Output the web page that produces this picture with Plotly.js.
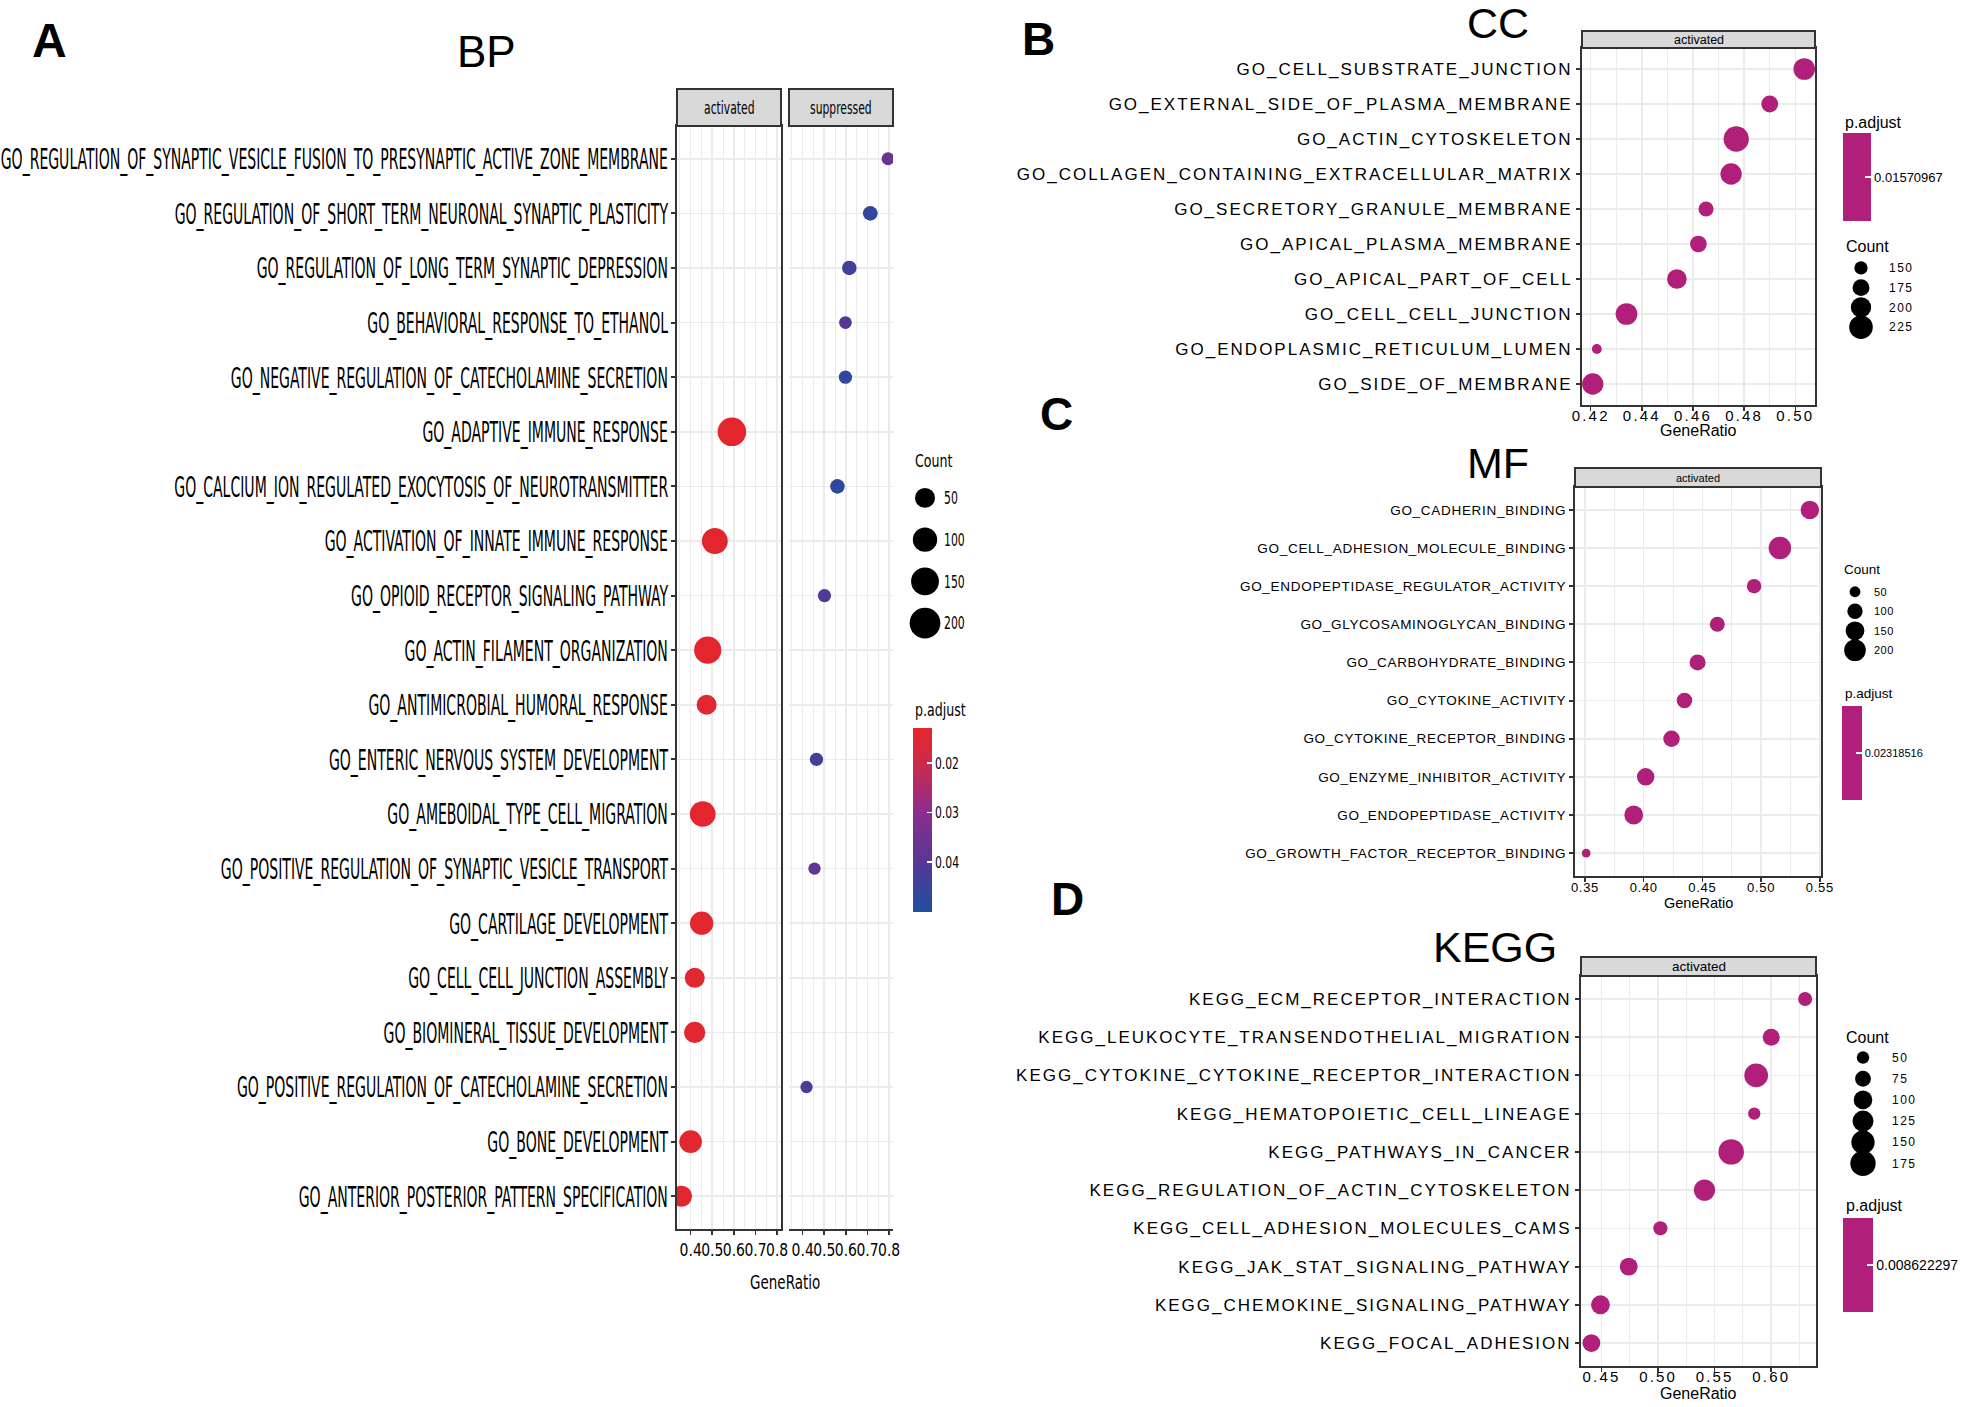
<!DOCTYPE html>
<html>
<head>
<meta charset="utf-8">
<script src="https://cdn.plot.ly/plotly-3.0.1.min.js"></script>
<style>
html,body{margin:0;padding:0;background:#fff;}
#chart{width:1980px;height:1407px;}
.y3tick text, .y5tick text{letter-spacing:2px;}
.y4tick text{letter-spacing:0.7px;}
.x3tick text, .x5tick text{letter-spacing:2.2px;}
.x4tick text{letter-spacing:0.7px;}
.y7tick text, .y9tick text{letter-spacing:1.5px;}
.y8tick text{letter-spacing:0.5px;}
</style>
</head>
<body>
<div id="chart"></div>
<script>
// ---------------- DATA ----------------
const bpTerms = [
  'GO_REGULATION_OF_SYNAPTIC_VESICLE_FUSION_TO_PRESYNAPTIC_ACTIVE_ZONE_MEMBRANE',
  'GO_REGULATION_OF_SHORT_TERM_NEURONAL_SYNAPTIC_PLASTICITY',
  'GO_REGULATION_OF_LONG_TERM_SYNAPTIC_DEPRESSION',
  'GO_BEHAVIORAL_RESPONSE_TO_ETHANOL',
  'GO_NEGATIVE_REGULATION_OF_CATECHOLAMINE_SECRETION',
  'GO_ADAPTIVE_IMMUNE_RESPONSE',
  'GO_CALCIUM_ION_REGULATED_EXOCYTOSIS_OF_NEUROTRANSMITTER',
  'GO_ACTIVATION_OF_INNATE_IMMUNE_RESPONSE',
  'GO_OPIOID_RECEPTOR_SIGNALING_PATHWAY',
  'GO_ACTIN_FILAMENT_ORGANIZATION',
  'GO_ANTIMICROBIAL_HUMORAL_RESPONSE',
  'GO_ENTERIC_NERVOUS_SYSTEM_DEVELOPMENT',
  'GO_AMEBOIDAL_TYPE_CELL_MIGRATION',
  'GO_POSITIVE_REGULATION_OF_SYNAPTIC_VESICLE_TRANSPORT',
  'GO_CARTILAGE_DEVELOPMENT',
  'GO_CELL_CELL_JUNCTION_ASSEMBLY',
  'GO_BIOMINERAL_TISSUE_DEVELOPMENT',
  'GO_POSITIVE_REGULATION_OF_CATECHOLAMINE_SECRETION',
  'GO_BONE_DEVELOPMENT',
  'GO_ANTERIOR_POSTERIOR_PATTERN_SPECIFICATION'
];
const bpGroup = ['suppressed','suppressed','suppressed','suppressed','suppressed','activated','suppressed','activated','suppressed','activated',
                 'activated','suppressed','activated','suppressed','activated','activated','activated','suppressed','activated','activated'];
const bpGeneRatio = [0.795,0.713,0.616,0.598,0.598,0.591,0.561,0.512,0.501,0.479,0.474,0.464,0.456,0.455,0.451,0.419,0.419,0.418,0.400,0.358];
const bpCount = [6,13,12,5,7,163,12,120,7,140,50,7,118,4,86,50,62,4,78,60];
const bpPadjust = [0.036,0.046,0.044,0.040,0.047,0.0135,0.047,0.0135,0.041,0.0135,0.0140,0.043,0.0135,0.038,0.0138,0.0140,0.0140,0.042,0.0140,0.0142];
const bpFacets = ['activated','suppressed'];
const bpTicks = [0.4,0.5,0.6,0.7,0.8];
const bpTickText = ['0.4','0.5','0.6','0.7','0.8'];
const bpSizeBreaks = ['50','100','150','200'];
const bpPadjTicks = [0.02,0.03,0.04];
const bpPadjTickText = ['0.02','0.03','0.04'];

const ccTerms = [
  'GO_CELL_SUBSTRATE_JUNCTION','GO_EXTERNAL_SIDE_OF_PLASMA_MEMBRANE','GO_ACTIN_CYTOSKELETON',
  'GO_COLLAGEN_CONTAINING_EXTRACELLULAR_MATRIX','GO_SECRETORY_GRANULE_MEMBRANE','GO_APICAL_PLASMA_MEMBRANE',
  'GO_APICAL_PART_OF_CELL','GO_CELL_CELL_JUNCTION','GO_ENDOPLASMIC_RETICULUM_LUMEN','GO_SIDE_OF_MEMBRANE'
];
const ccGeneRatio = [0.5035,0.490,0.4769,0.4749,0.4651,0.4621,0.4537,0.434,0.4224,0.4208];
const ccCount = [210,174,240,208,162,173,195,211,128,208];
const ccPadjust = [0.01570967,0.01570967,0.01570967,0.01570967,0.01570967,0.01570967,0.01570967,0.01570967,0.01570967,0.01570967];
const ccTicks = [0.42,0.44,0.46,0.48,0.50];
const ccTickText = ['0.42','0.44','0.46','0.48','0.50'];
const ccSizeBreaks = ['150','175','200','225'];
const ccPadjLabel = ['0.01570967'];

const mfTerms = [
  'GO_CADHERIN_BINDING','GO_CELL_ADHESION_MOLECULE_BINDING','GO_ENDOPEPTIDASE_REGULATOR_ACTIVITY',
  'GO_GLYCOSAMINOGLYCAN_BINDING','GO_CARBOHYDRATE_BINDING','GO_CYTOKINE_ACTIVITY','GO_CYTOKINE_RECEPTOR_BINDING',
  'GO_ENZYME_INHIBITOR_ACTIVITY','GO_ENDOPEPTIDASE_ACTIVITY','GO_GROWTH_FACTOR_RECEPTOR_BINDING'
];
const mfGeneRatio = [0.5415,0.516,0.494,0.4627,0.4459,0.4347,0.4237,0.4017,0.3915,0.351];
const mfCount = [146,216,90,96,110,103,116,131,151,33];
const mfPadjust = [0.02318516,0.02318516,0.02318516,0.02318516,0.02318516,0.02318516,0.02318516,0.02318516,0.02318516,0.02318516];
const mfTicks = [0.35,0.40,0.45,0.50,0.55];
const mfTickText = ['0.35','0.40','0.45','0.50','0.55'];
const mfSizeBreaks = ['50','100','150','200'];
const mfPadjLabel = ['0.02318516'];

const keggTerms = [
  'KEGG_ECM_RECEPTOR_INTERACTION','KEGG_LEUKOCYTE_TRANSENDOTHELIAL_MIGRATION','KEGG_CYTOKINE_CYTOKINE_RECEPTOR_INTERACTION',
  'KEGG_HEMATOPOIETIC_CELL_LINEAGE','KEGG_PATHWAYS_IN_CANCER','KEGG_REGULATION_OF_ACTIN_CYTOSKELETON',
  'KEGG_CELL_ADHESION_MOLECULES_CAMS','KEGG_JAK_STAT_SIGNALING_PATHWAY','KEGG_CHEMOKINE_SIGNALING_PATHWAY','KEGG_FOCAL_ADHESION'
];
const keggGeneRatio = [0.630,0.600,0.5867,0.585,0.5646,0.541,0.502,0.474,0.449,0.441];
const keggCount = [61,85,155,49,177,127,62,93,103,93];
const keggPadjust = [0.008622297,0.008622297,0.008622297,0.008622297,0.008622297,0.008622297,0.008622297,0.008622297,0.008622297,0.008622297];
const keggTicks = [0.45,0.50,0.55,0.60];
const keggTickText = ['0.45','0.50','0.55','0.60'];
const keggSizeBreaks = ['50','75','100','125','150','175'];
const keggPadjLabel = ['0.008622297'];

// ---------------- LAYOUT HELPERS ----------------
const W = 1980, H = 1407;
const fx = p => p / W;
const fy = p => 1 - p / H;
const NARROW = '"Liberation Sans Narrow", "Arial Narrow", "DejaVu Sans Condensed", sans-serif';
const ARIAL = '"Liberation Sans", Arial, Helvetica, sans-serif';
const MAG = '#B0207A';
const GRID = '#EBEBEB';
const BORDER = '#333333';

// size scales (diameter in px from count, area-like as ggplot)
const sizeBP = c => 9.3 + 1.51 * Math.sqrt(c);
const sizeCC = c => -32 + 3.7 * Math.sqrt(c);
const sizeMF = c => 1.53 * Math.sqrt(c);
const sizeKEGG = c => -2.2 + 2.08 * Math.sqrt(c);

function xAxis(d0, d1, anchor, range, tv, tt, minor0, minorD, tickSize, fam, standoff) {
  return {
    domain: [fx(d0), fx(d1)], anchor: anchor, range: range,
    tickmode: 'array', tickvals: tv, ticktext: tt, tickangle: 0,
    ticks: 'outside', ticklen: 4, tickwidth: 1.5, tickcolor: BORDER,
    ticklabelstandoff: standoff,
    tickfont: {family: fam, size: tickSize, color: '#000'},
    showgrid: true, gridcolor: GRID, gridwidth: 1.6,
    minor: {tickmode: 'linear', tick0: minor0, dtick: minorD, showgrid: true, gridcolor: GRID, gridwidth: 1, ticks: ''},
    zeroline: false, showline: true, mirror: true, linecolor: BORDER, linewidth: 2,
    fixedrange: true
  };
}
function yAxis(top, bottom, anchor, cats, tickSize, fam, showLabels) {
  return {
    domain: [fy(bottom), fy(top)], anchor: anchor, type: 'category',
    categoryorder: 'array', categoryarray: cats,
    range: [cats.length - 0.4, -0.6],
    ticks: 'outside', ticklen: 4, tickwidth: 2, tickcolor: BORDER,
    showticklabels: showLabels,
    tickfont: {family: fam, size: tickSize, color: '#000'},
    showgrid: true, gridcolor: GRID, gridwidth: 1.6,
    zeroline: false, showline: true, mirror: true, linecolor: BORDER, linewidth: 2,
    fixedrange: true
  };
}
function legX(center) {
  return {domain: [fx(center - 10), fx(center + 10)], range: [-1, 1], visible: false, fixedrange: true};
}
function legY(top, bottom, anchor, cats, tickSize, fam, standoff) {
  return {
    domain: [fy(bottom), fy(top)], anchor: anchor, side: 'right', type: 'category',
    categoryorder: 'array', categoryarray: cats, range: [cats.length - 0.5, -0.5],
    showgrid: false, zeroline: false, showline: false, ticks: '',
    ticklabelstandoff: standoff,
    tickfont: {family: fam, size: tickSize, color: '#000'}, fixedrange: true
  };
}
function ann(text, xpx, ypx, size, fam, opts) {
  return Object.assign({
    text: text, xref: 'paper', yref: 'paper', x: fx(xpx), y: fy(ypx),
    xanchor: 'center', yanchor: 'middle', showarrow: false,
    font: {family: fam, size: size, color: '#000'}
  }, opts || {});
}
function strip(x0, x1, y0, y1) {
  return {type: 'rect', xref: 'paper', yref: 'paper', x0: fx(x0), x1: fx(x1), y0: fy(y1), y1: fy(y0),
          fillcolor: '#D9D9D9', line: {color: BORDER, width: 2}, layer: 'above'};
}
function singleColorAxis(v, label, xpx, ypx, lenpx, thick, fsize) {
  return {
    cmin: v * 0.9, cmax: v * 1.1, colorscale: [[0, MAG], [1, MAG]], showscale: true,
    colorbar: {
      x: fx(xpx), xanchor: 'left', xpad: 0, xref: 'paper',
      y: fy(ypx), yanchor: 'top', ypad: 0, yref: 'paper',
      len: lenpx, lenmode: 'pixels', thickness: thick, thicknessmode: 'pixels',
      outlinewidth: 0, tickmode: 'array', tickvals: [v], ticktext: label,
      ticks: 'inside', ticklen: 6, tickwidth: 1.5, tickcolor: '#ffffff',
      tickfont: {family: ARIAL, size: fsize, color: '#000'}
    }
  };
}

// ---------------- TRACES ----------------
const traces = [];
bpFacets.forEach((facet, k) => {
  const idx = bpGroup.map((g, i) => g === facet ? i : -1).filter(i => i >= 0);
  traces.push({
    type: 'scatter', mode: 'markers', name: facet,
    x: idx.map(i => bpGeneRatio[i]), y: idx.map(i => bpTerms[i]),
    xaxis: k === 0 ? 'x' : 'x2', yaxis: 'y',
    marker: {size: idx.map(i => sizeBP(bpCount[i])), color: idx.map(i => -bpPadjust[i]),
             coloraxis: 'coloraxis', line: {width: 0}, opacity: 1},
    hoverinfo: 'skip'
  });
});
traces.push({type: 'scatter', mode: 'markers', x: ccGeneRatio, y: ccTerms, xaxis: 'x3', yaxis: 'y3',
  marker: {size: ccCount.map(sizeCC), color: ccPadjust, coloraxis: 'coloraxis2', line: {width: 0}, opacity: 1}, hoverinfo: 'skip'});
traces.push({type: 'scatter', mode: 'markers', x: mfGeneRatio, y: mfTerms, xaxis: 'x4', yaxis: 'y4',
  marker: {size: mfCount.map(sizeMF), color: mfPadjust, coloraxis: 'coloraxis3', line: {width: 0}, opacity: 1}, hoverinfo: 'skip'});
traces.push({type: 'scatter', mode: 'markers', x: keggGeneRatio, y: keggTerms, xaxis: 'x5', yaxis: 'y5',
  marker: {size: keggCount.map(sizeKEGG), color: keggPadjust, coloraxis: 'coloraxis4', line: {width: 0}, opacity: 1}, hoverinfo: 'skip'});

// size legends (Count keys), drawn through their own small axes
[[bpSizeBreaks, sizeBP, 'x6', 'y6'], [ccSizeBreaks, sizeCC, 'x7', 'y7'],
 [mfSizeBreaks, sizeMF, 'x8', 'y8'], [keggSizeBreaks, sizeKEGG, 'x9', 'y9']].forEach(([br, fn, xa, ya]) => {
  traces.push({type: 'scatter', mode: 'markers', x: br.map(() => 0), y: br, xaxis: xa, yaxis: ya,
    cliponaxis: false, marker: {size: br.map(b => fn(Number(b))), color: '#000000', line: {width: 0}, opacity: 1}, hoverinfo: 'skip'});
});

// ---------------- LAYOUT ----------------
const layout = {
  width: W, height: H, margin: {l: 0, r: 0, t: 0, b: 0, pad: 0},
  paper_bgcolor: '#ffffff', plot_bgcolor: '#ffffff', showlegend: false, hovermode: false,
  font: {family: ARIAL, color: '#000'},

  xaxis:  xAxis(677, 781, 'y', [0.337, 0.818], bpTicks, bpTickText, 0.35, 0.1, 15.5, NARROW, 1),
  xaxis2: xAxis(789, 893, 'y', [0.337, 0.818], bpTicks, bpTickText, 0.35, 0.1, 15.5, NARROW, 1),
  yaxis:  yAxis(126, 1229, 'x', bpTerms, 15.6, NARROW, true),
  xaxis3: xAxis(1582, 1815, 'y3', [0.4166, 0.5077], ccTicks, ccTickText, 0.41, 0.02, 15, ARIAL, -8),
  yaxis3: yAxis(48, 405, 'x3', ccTerms, 17, ARIAL, true),
  xaxis4: xAxis(1575, 1821, 'y4', [0.3415, 0.551], mfTicks, mfTickText, 0.325, 0.05, 13, ARIAL, -6),
  yaxis4: yAxis(487, 876, 'x4', mfTerms, 13.5, ARIAL, true),
  xaxis5: xAxis(1581, 1816, 'y5', [0.4318, 0.6396], keggTicks, keggTickText, 0.425, 0.05, 15, ARIAL, -8),
  yaxis5: yAxis(976, 1366, 'x5', keggTerms, 17, ARIAL, true),

  xaxis6: legX(925),  yaxis6: legY(477, 644, 'x6', bpSizeBreaks, 12, NARROW, 8),
  xaxis7: legX(1861), yaxis7: legY(258, 337, 'x7', ccSizeBreaks, 12, ARIAL, 17),
  xaxis8: legX(1855), yaxis8: legY(582, 660, 'x8', mfSizeBreaks, 11, ARIAL, 8),
  xaxis9: legX(1863), yaxis9: legY(1047, 1174, 'x9', keggSizeBreaks, 12, ARIAL, 18),

  coloraxis: {
    cmin: -0.0501, cmax: -0.0129,
    colorscale: [[0, '#1E4FA0'], [0.27, '#553896'], [0.54, '#8B2D8E'], [0.81, '#CC2A4A'], [1, '#E5262A']],
    colorbar: {
      x: fx(913), xanchor: 'left', xpad: 0, xref: 'paper',
      y: fy(728), yanchor: 'top', ypad: 0, yref: 'paper',
      len: 184, lenmode: 'pixels', thickness: 19, thicknessmode: 'pixels', outlinewidth: 0,
      tickmode: 'array', tickvals: bpPadjTicks.map(v => -v), ticktext: bpPadjTickText,
      ticks: 'inside', ticklen: 5, tickwidth: 1.5, tickcolor: '#ffffff',
      tickfont: {family: NARROW, size: 12, color: '#000'}
    }
  },
  coloraxis2: singleColorAxis(ccPadjust[0], ccPadjLabel, 1843, 133, 88, 28, 13),
  coloraxis3: singleColorAxis(mfPadjust[0], mfPadjLabel, 1842, 706, 94, 20, 11),
  coloraxis4: singleColorAxis(keggPadjust[0], keggPadjLabel, 1843, 1218, 94, 30, 14),

  shapes: [
    strip(677, 781, 89, 126), strip(789, 893, 89, 126),
    strip(1582, 1815, 31, 48), strip(1575, 1821, 468, 487), strip(1581, 1816, 957, 976)
  ],
  annotations: [
    ann('A', 49, 40, 48, ARIAL, {font: {family: ARIAL, size: 48, color: '#000', weight: 'bold'}}),
    ann('B', 1038, 39, 46, ARIAL, {font: {family: ARIAL, size: 46, color: '#000', weight: 'bold'}}),
    ann('C', 1056, 414, 46, ARIAL, {font: {family: ARIAL, size: 46, color: '#000', weight: 'bold'}}),
    ann('D', 1067, 899, 46, ARIAL, {font: {family: ARIAL, size: 46, color: '#000', weight: 'bold'}}),
    ann('BP', 486, 51, 44, ARIAL),
    ann('CC', 1498, 23, 43, ARIAL),
    ann('MF', 1498, 463, 43, ARIAL),
    ann('KEGG', 1495, 947, 43, ARIAL),
    ann('activated', 729, 107.5, 12, NARROW),
    ann('suppressed', 841, 107.5, 12, NARROW),
    ann('activated', 1698.5, 39.5, 12.5, ARIAL),
    ann('activated', 1698, 477.5, 11, ARIAL),
    ann('activated', 1698.5, 966.5, 13.5, ARIAL),
    ann('GeneRatio', 785, 1282, 15, NARROW),
    ann('GeneRatio', 1698, 430, 16, ARIAL),
    ann('GeneRatio', 1698, 903, 14.5, ARIAL),
    ann('GeneRatio', 1698, 1393, 16, ARIAL),
    ann('Count', 913, 460, 14, NARROW, {xanchor: 'left'}),
    ann('p.adjust', 913, 709, 14, NARROW, {xanchor: 'left'}),
    ann('p.adjust', 1843, 122, 16, ARIAL, {xanchor: 'left'}),
    ann('Count', 1844, 247, 16, ARIAL, {xanchor: 'left'}),
    ann('Count', 1842, 569, 13.5, ARIAL, {xanchor: 'left'}),
    ann('p.adjust', 1843, 693, 13.5, ARIAL, {xanchor: 'left'}),
    ann('Count', 1844, 1037, 16, ARIAL, {xanchor: 'left'}),
    ann('p.adjust', 1844, 1205, 16, ARIAL, {xanchor: 'left'})
  ]
};

// Panel A's texts in the reference are tall and condensed. Enlarge the glyphs and
// squeeze them back horizontally (SVG scale transform) so each text keeps its width
// and its centre.
function targetSize(el) {
  if (el.closest('g.ytick')) return 28;
  if (el.closest('g.xtick') || el.closest('g.x2tick')) return 18;
  if (el.closest('g.y6tick')) return 17;
  const t = el.textContent;
  if (t === 'activated' || t === 'suppressed') return 17;
  if (t === 'GeneRatio') return 20;
  if (t === 'Count' || t === 'p.adjust') return 18;
  return 16;
}
function squeezeNarrow(gd) {
  gd.querySelectorAll('text').forEach(el => {
    if ((el.style.fontFamily || '').indexOf('Narrow') < 0) return;
    const b0 = el.getBBox();
    if (!b0.width) return;
    el.style.fontSize = targetSize(el) + 'px';
    const b1 = el.getBBox();
    if (!b1.width) return;
    const sx = b0.width / b1.width;
    const cx0 = b0.x + b0.width / 2, cy0 = b0.y + b0.height / 2;
    const cx1 = b1.x + b1.width / 2, cy1 = b1.y + b1.height / 2;
    const t = el.getAttribute('transform') || '';
    el.setAttribute('transform', (t + ' translate(' + cx0.toFixed(2) + ',' + cy0.toFixed(2) + ') scale(' +
      sx.toFixed(4) + ',1) translate(' + (-cx1).toFixed(2) + ',' + (-cy1).toFixed(2) + ')').trim());
  });
}

Plotly.newPlot('chart', traces, layout, {displayModeBar: false, staticPlot: true}).then(squeezeNarrow);
</script>
</body>
</html>
